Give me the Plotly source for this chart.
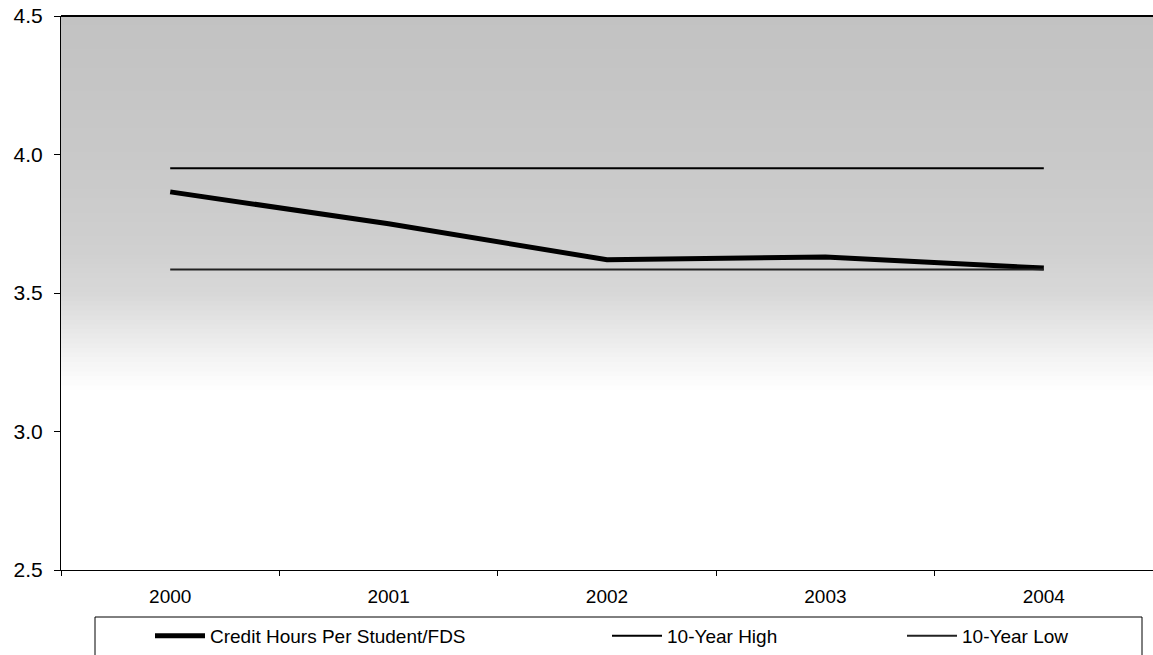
import plotly.graph_objects as go

# ---- data ----
years = ["2000", "2001", "2002", "2003", "2004"]
credit_hours = [3.865, 3.75, 3.62, 3.63, 3.59]
ten_year_high = [3.95, 3.95, 3.95, 3.95, 3.95]
ten_year_low = [3.585, 3.585, 3.585, 3.585, 3.585]
y_ticks = [2.5, 3.0, 3.5, 4.0, 4.5]
y_tick_text = ["2.5", "3.0", "3.5", "4.0", "4.5"]

FONT = "Arial, Liberation Sans, Helvetica, sans-serif"

W, H = 1153, 655
ML, MT, MB = 61, 16, 85
PW = W - ML
PH = H - MT - MB

fig = go.Figure()
fig.add_trace(go.Scatter(x=years, y=credit_hours, mode="lines",
                         name="Credit Hours Per Student/FDS",
                         line=dict(color="black", width=5), legend="legend"))
fig.add_trace(go.Scatter(x=years, y=ten_year_high, mode="lines",
                         name="10-Year High",
                         line=dict(color="black", width=2), legend="legend2"))
fig.add_trace(go.Scatter(x=years, y=ten_year_low, mode="lines",
                         name="10-Year Low",
                         line=dict(color="#222222", width=2), legend="legend3"))

# ---- background: gray wash fading to white toward the bottom ----
stops = [(4.5, 194), (4.2, 198), (3.9, 202), (3.65, 208), (3.5, 216),
         (3.38, 230), (3.25, 245), (3.15, 255)]
shapes = []
n = 80
top, bot = 4.5, 3.15
for i in range(n):
    # from lowest (lightest) to highest (darkest); each rect reaches the top
    y0 = bot + (top - bot) * i / n
    ym = y0 + (top - bot) / (2 * n)
    g = 255
    for (ya, ga), (yb, gb) in zip(stops[:-1], stops[1:]):
        if yb <= ym <= ya:
            t = (ya - ym) / (ya - yb)
            g = round(ga + (gb - ga) * t)
            break
    shapes.append(dict(type="rect", xref="paper", yref="y", x0=0, x1=1,
                       y0=y0, y1=top, fillcolor=f"rgb({g},{g},{g})",
                       line=dict(width=0), layer="below"))

# top border of plot area
shapes.append(dict(type="line", xref="paper", yref="paper", x0=0, x1=1,
                   y0=1, y1=1, line=dict(color="black", width=2)))


def px_x(p):
    return (p - ML) / PW


def px_y(p):
    return (570 - p) / PH


# legend box
shapes.append(dict(type="rect", xref="paper", yref="paper",
                   x0=px_x(95), x1=px_x(1142), y0=px_y(660), y1=px_y(617),
                   line=dict(color="black", width=1), fillcolor="white"))

leg_common = dict(orientation="h", yanchor="middle", y=px_y(636), xanchor="left",
                  bgcolor="rgba(0,0,0,0)", borderwidth=0, itemwidth=50,
                  font=dict(family=FONT, size=19, color="black"))

fig.update_layout(
    width=W, height=H,
    margin=dict(l=ML, r=0, t=MT, b=MB, autoexpand=False),
    paper_bgcolor="white", plot_bgcolor="white",
    font=dict(family=FONT, size=19, color="black"),
    shapes=shapes,
    showlegend=True,
    legend=dict(x=px_x(150), **leg_common),
    legend2=dict(x=px_x(607), **leg_common),
    legend3=dict(x=px_x(902), **leg_common),
    xaxis=dict(type="category", range=[-0.5, 4.5], showgrid=False,
               showline=True, linecolor="black", linewidth=1,
               ticks="outside", tickson="boundaries", ticklen=5,
               tickcolor="black", tickfont=dict(family=FONT, size=19),
               ticklabelstandoff=9, zeroline=False),
    yaxis=dict(range=[2.5, 4.5], tickvals=y_ticks, ticktext=y_tick_text,
               showgrid=False, showline=True, linecolor="black", linewidth=1,
               ticks="outside", ticklen=6, tickcolor="black",
               tickfont=dict(family=FONT, size=21), ticklabelstandoff=7,
               ticklabeloverflow="allow", zeroline=False),
)

fig.write_html("out.html",
               config={"displayModeBar": False},
               post_script="document.body.style.margin='0';document.body.style.overflow='hidden';")
